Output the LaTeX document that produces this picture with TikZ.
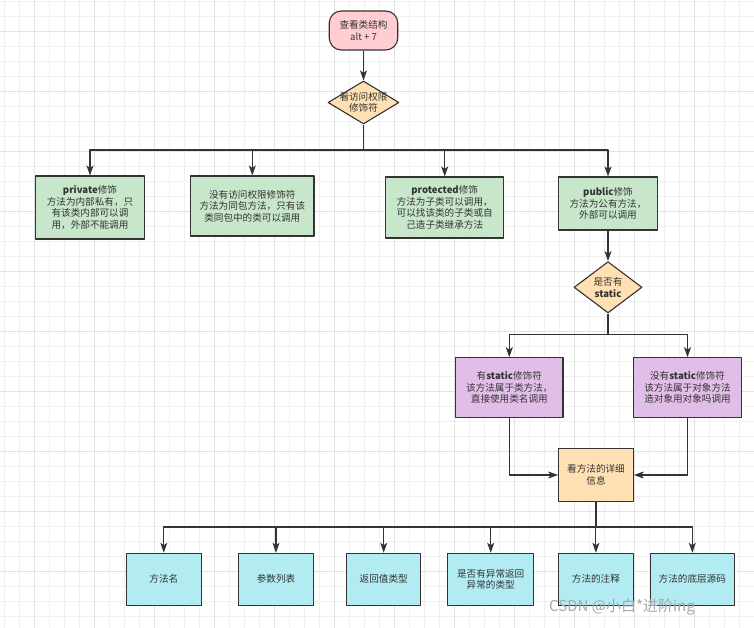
\documentclass[tikz,border=0pt]{standalone}
\usepackage{fontspec}
\setmainfont{Noto Sans CJK SC}
\usetikzlibrary{arrows.meta,shapes.geometric}
\definecolor{ink}{HTML}{333333}
\definecolor{cpink}{HTML}{FFCDD2}
\definecolor{corange}{HTML}{FFE0B2}
\definecolor{cgreen}{HTML}{C8E6C9}
\definecolor{cpurple}{HTML}{E1BEE7}
\definecolor{ccyan}{HTML}{B2EBF2}
\definecolor{gridA}{HTML}{F0F0F0}
\definecolor{gridB}{HTML}{E2E2E2}
\definecolor{wm}{HTML}{A8A8A8}
\begin{document}
\begin{tikzpicture}[x=1pt,y=-1pt,line join=round,>={Stealth[length=10pt,width=7pt,inset=2.5pt]},
    font=\fontsize{9.6}{11.6}\selectfont,
    box/.style 2 args={draw=ink,line width=1.1pt,text=ink,align=center,inner sep=0pt,minimum width=#1pt,minimum height=#2pt},
    dia/.style 2 args={draw=ink,line width=1.1pt,fill=corange,diamond,inner sep=0pt,minimum width=#1pt,minimum height=#2pt},
    txt/.style={text=ink,align=center,inner sep=0pt},
    link/.style={draw=ink,line width=1.1pt},
    minor/.style={draw=gridA,line width=0.9pt},
    major/.style={draw=gridB,line width=0.9pt}]
    \useasboundingbox (0,0) rectangle (754,628);
    \fill[white] (0,0) rectangle (754,628);
    \foreach \i in {0,...,49} \draw[minor] ({4.7+15*\i},0) -- ({4.7+15*\i},628);
    \foreach \i in {0,...,41} \draw[minor] (0,{1+15*\i}) -- (754,{1+15*\i});
    \foreach \i in {0,...,11} \draw[major] ({34.7+60*\i},0) -- ({34.7+60*\i},628);
    \foreach \i in {0,...,9} \draw[major] (0,{31+60*\i}) -- (754,{31+60*\i});
    \path
    (363.5,150) coordinate (b1)
    (608,334.5) coordinate (b2)
    (596,527) coordinate (b3)
    ;
    \node[box={68.5}{39},fill=cpink,rounded corners=12pt] (start) at (363.5,30.5) {查看类结构\\alt + 7};
    \node[dia={71}{43}] (acc) at (363.5,102.5) {};
    \node[txt] (acc-t) at (acc) {看访问权限\\修饰符};
    \node[box={108.3}{63},fill=cgreen] (pri) at (90,207.5) {\textbf{private}修饰\\方法为内部私有，只\\有该类内部可以调\\用，外部不能调用};
    \node[box={123.3}{60},fill=cgreen] (def) at (252.3,206) {没有访问权限修饰符\\方法为同包方法，只有该\\类同包中的类可以调用};
    \node[box={118}{61},fill=cgreen] (pro) at (444.7,207.5) {\textbf{protected}修饰\\方法为子类可以调用，\\可以找该类的子类或自\\己造子类继承方法};
    \node[box={98.6}{53},fill=cgreen] (pub) at (608,203.5) {\textbf{public}修饰\\方法为公有方法，\\外部可以调用};
    \node[dia={68}{51.3}] (st) at (608,287.3) {};
    \node[txt] (st-t) at (st) {是否有\\\textbf{static}};
    \node[box={107.3}{60},fill=cpurple] (hs) at (509.3,387.7) {有\textbf{static}修饰符\\该方法属于类方法，\\直接使用类名调用};
    \node[box={108.4}{60},fill=cpurple] (ns) at (687.5,387.7) {没有\textbf{static}修饰符\\该方法属于对象方法\\造对象用对象吗调用};
    \node[box={74.6}{53.4},fill=corange] (det) at (596,475) {看方法的详细\\信息};
    \foreach \n/\x/\w/\t in {m1/163.8/74.8/{方法名},m2/276/74.8/{参数列表},m3/383.7/74.4/{返回值类型},
        m4/490.7/86.2/{是否有异常返回\\异常的类型},m5/595.9/74.7/{方法的注释},m6/692.3/83.7/{方法的底层源码}}
        \node[box={\w}{52},fill=ccyan] (\n) at (\x,579.3) {\t};
    \draw[link,->] (start) -- (acc);
    \foreach \n in {pri,def,pro,pub} \draw[link,->] (acc.south) -- (b1) -| (\n.north);
    \draw[link,->] (pub) -- (st);
    \foreach \n in {hs,ns} \draw[link,->] (st.south) -- (b2) -| (\n.north);
    \draw[link,->] (hs.south) |- (det.west);
    \draw[link,->] (ns.south) |- (det.east);
    \foreach \n in {m1,m2,m3,m4,m5,m6} \draw[link,->] (det.south) -- (b3) -| (\n.north);
    \node[text=wm,font=\fontsize{15}{15}\selectfont,anchor=west,inner sep=0pt] (mark) at (549,607) {CSDN @小白*进阶ing};
\end{tikzpicture}
\end{document}
